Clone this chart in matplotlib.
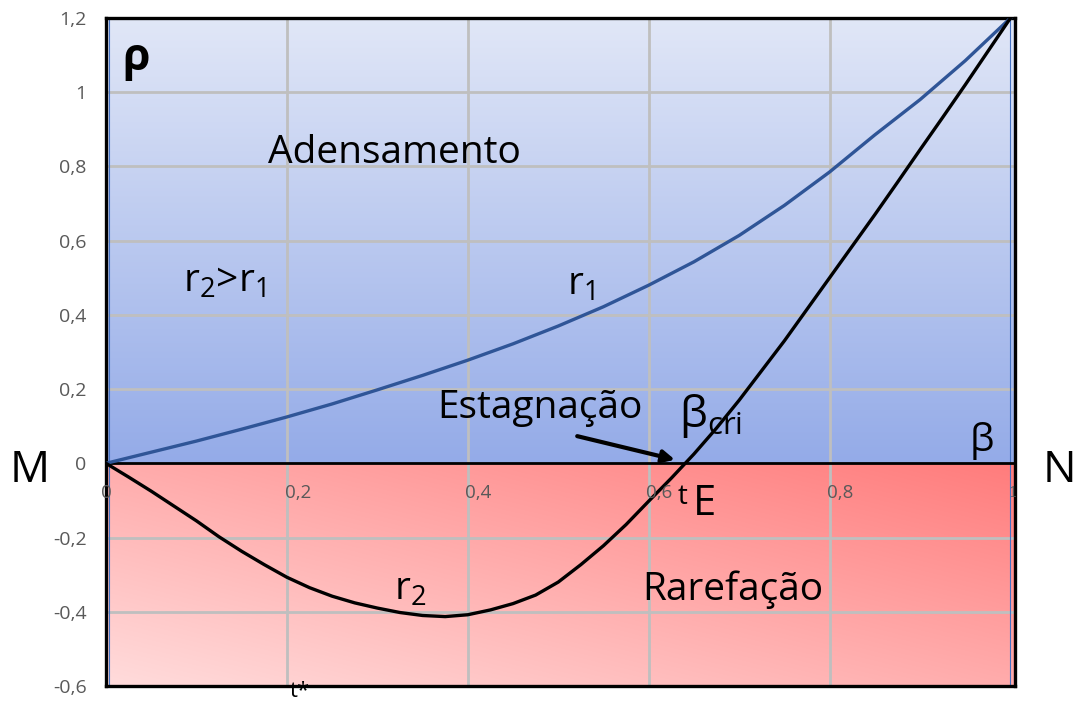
import numpy as np
import matplotlib
matplotlib.use("Agg")
import matplotlib.pyplot as plt
from matplotlib.colors import to_rgb

plt.rcParams['font.family'] = ['Open Sans', 'DejaVu Sans']

# r1 curve
beta1 = [0.0, 0.05, 0.1, 0.15, 0.2, 0.25, 0.3, 0.35, 0.4, 0.45, 0.5,
         0.55, 0.6, 0.65, 0.7, 0.75, 0.8, 0.85, 0.9, 0.95, 1.0]
r1 = [0.0, 0.03, 0.06, 0.092, 0.125, 0.16, 0.198, 0.237, 0.278, 0.322, 0.37,
      0.422, 0.48, 0.543, 0.614, 0.695, 0.785, 0.885, 0.98, 1.085, 1.2]

# r2 curve (finer steps, it bends more)
beta2 = [0.0, 0.025, 0.05, 0.075, 0.1, 0.125, 0.15, 0.175, 0.2, 0.225, 0.25,
         0.275, 0.3, 0.325, 0.35, 0.375, 0.4, 0.425, 0.45, 0.475, 0.5,
         0.525, 0.55, 0.575, 0.6, 0.625, 0.65, 0.675, 0.7, 0.725, 0.75,
         0.775, 0.8, 0.825, 0.85, 0.875, 0.9, 0.925, 0.95, 0.975, 1.0]
r2 = [0.0, -0.037, -0.075, -0.115, -0.155, -0.198, -0.237, -0.273, -0.307, -0.335, -0.358,
      -0.376, -0.39, -0.402, -0.41, -0.413, -0.408, -0.395, -0.378, -0.355, -0.32,
      -0.273, -0.222, -0.165, -0.102, -0.04, 0.025, 0.095, 0.17, 0.25, 0.33,
      0.415, 0.5, 0.585, 0.67, 0.757, 0.845, 0.932, 1.02, 1.11, 1.2]

x_ticks = [0, 0.2, 0.4, 0.6, 0.8]
x_tick_labels = ["0", "0,2", "0,4", "0,6", "0,8"]
y_ticks = [-0.6, -0.4, -0.2, 0, 0.2, 0.4, 0.6, 0.8, 1.0, 1.2]
y_tick_labels = ["-0,6", "-0,4", "-0,2", "0", "0,2", "0,4", "0,6", "0,8", "1", "1,2"]

XMAX = 1.005

fig = plt.figure(figsize=(10.79, 7.07), dpi=100)
ax = fig.add_axes([106 / 1079, 1 - 686 / 707, (1015 - 106) / 1079, (686 - 18) / 707])
ax.set_xlim(0, XMAX)
ax.set_ylim(-0.6, 1.2)

# background gradients
n = 200
g = np.linspace(0, 1, n)
lo, hi = np.array(to_rgb("#94abe8")), np.array(to_rgb("#e1e7f7"))
top = lo[None, None, :] + (hi - lo)[None, None, :] * g[:, None, None]
top = np.repeat(top, 2, axis=1)
ax.imshow(top, extent=(0, XMAX, 0, 1.2), origin="lower", aspect="auto", zorder=0)

gx, gy = np.meshgrid(g, g)
t = 0.5 * gx + 0.5 * gy
light, strong = np.array(to_rgb("#ffdcdc")), np.array(to_rgb("#ff7c7c"))
bot = light + (strong - light) * t[..., None]
ax.imshow(bot, extent=(0, XMAX, -0.6, 0), origin="lower", aspect="auto", zorder=0)

# grid
for xv in x_ticks[1:]:
    ax.axvline(xv, color="#bfbfbf", lw=2, zorder=1)
for yv in y_ticks[1:-1]:
    if yv != 0:
        ax.axhline(yv, color="#bfbfbf", lw=2, zorder=1)
ax.axvline(0.003, color="#4472c4", lw=0.8, zorder=1)
ax.axvline(1.0, color="#4472c4", lw=0.8, zorder=1)
ax.axhline(0, color="black", lw=2, zorder=2)

ax.plot(beta1, r1, color="#2f5597", lw=2.4, zorder=3, solid_joinstyle="round")
ax.plot(beta2, r2, color="black", lw=2.4, zorder=3, solid_joinstyle="round")

for sp in ax.spines.values():
    sp.set_linewidth(2.4)
    sp.set_color("black")

ax.set_xticks([])
ax.set_yticks(y_ticks)
ax.set_yticklabels(y_tick_labels, color="#595959", fontsize=14)
ax.tick_params(axis="y", length=0, pad=14)

for xv, lab in zip(x_ticks, x_tick_labels):
    ax.text(xv + 0.012 if xv > 0 else xv, -0.08, lab, color="#595959", fontsize=13.5,
            ha="center", va="center", zorder=4)
ax.text(1.003, -0.08, "1", color="#595959", fontsize=10, family="DejaVu Serif",
        ha="center", va="center", zorder=4)

fs = 28
ax.text(0.018, 1.09, "ρ", fontsize=32, fontweight="bold", ha="left", va="center")
ax.text(0.319, 0.835, "Adensamento", fontsize=fs, ha="center", va="center")
ax.text(0.085, 0.49, r"r$_\mathregular{2}$>r$_\mathregular{1}$", fontsize=fs, ha="left", va="center")
ax.text(0.51, 0.48, r"r$_\mathregular{1}$", fontsize=fs, ha="left", va="center")
ax.text(0.366, 0.148, "Estagnação", fontsize=fs, ha="left", va="center")
ax.text(0.633, 0.128, r"β$_\mathregular{cri}$", fontsize=fs + 4, ha="left", va="center")
ax.annotate("", xy=(0.632, 0.008), xytext=(0.518, 0.075),
            arrowprops=dict(arrowstyle="-|>", color="black", lw=3, mutation_scale=18))
ax.text(0.955, 0.06, "β", fontsize=fs, ha="left", va="center")
ax.text(-0.084, -0.02, "M", fontsize=fs + 4, ha="center", va="center", clip_on=False)
ax.text(1.054, -0.02, "N", fontsize=fs + 4, ha="center", va="center", clip_on=False)
ax.text(0.632, -0.092, "t", fontsize=20, ha="left", va="center")
ax.text(0.649, -0.11, "E", fontsize=fs + 2, ha="left", va="center")
ax.text(0.318, -0.34, r"r$_\mathregular{2}$", fontsize=fs, ha="left", va="center")
ax.text(0.693, -0.34, "Rarefação", fontsize=fs, ha="center", va="center")
ax.text(0.214, -0.614, "t*", fontsize=16, ha="center", va="center", clip_on=False)

fig.savefig("out.png", dpi=100)
